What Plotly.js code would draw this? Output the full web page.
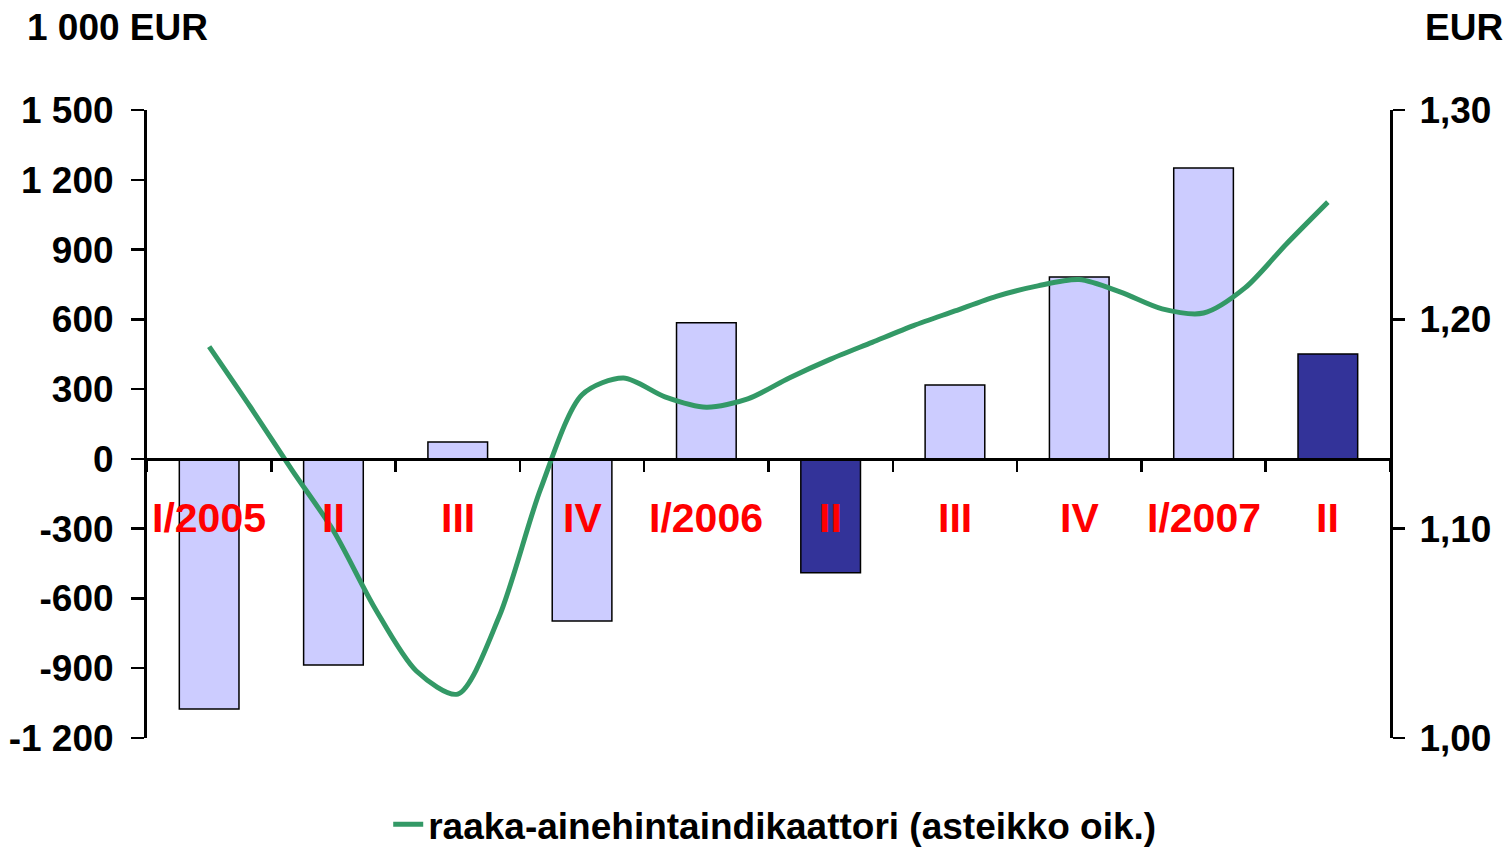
<!DOCTYPE html>
<html>
<head>
<meta charset="utf-8">
<script src="https://cdn.plot.ly/plotly-3.0.1.min.js"></script>
<style>
  html, body { margin: 0; padding: 0; background: #ffffff; }
  #chart { width: 1510px; height: 850px; }
</style>
</head>
<body>
<div id="chart"></div>
<script>
// Quarter categories (bars)
const quarters = ["I/2005", "II", "III", "IV", "I/2006", "II", "III", "IV", "I/2007", "II"];
// Bar values, 1 000 EUR (left scale)
const barValues = [-1075, -886, 73, -697, 585, -490, 318, 782, 1251, 451];
// Highlighted quarters (dark bars)
const highlighted = [5, 9];

// Monthly raw-material price indicator, EUR (right scale), Feb 2005 .. May 2007
const indicator = [
  1.187, 1.158, 1.128, 1.099, 1.062, 1.032, 1.021, 1.058, 1.119, 1.164,
  1.172, 1.163, 1.158, 1.162, 1.172, 1.181, 1.189, 1.197, 1.204, 1.211,
  1.216, 1.219, 1.213, 1.205, 1.203, 1.215, 1.236, 1.256
];
const indicatorName = "raaka-ainehintaindikaattori (asteikko oik.)";

// Axis ticks
const leftTickVals = [-1200, -900, -600, -300, 0, 300, 600, 900, 1200, 1500];
const leftTickText = ["-1 200", "-900", "-600", "-300", "0", "300", "600", "900", "1 200", "1 500"];
const rightTickVals = [1.00, 1.10, 1.20, 1.30];
const rightTickText = ["1,00", "1,10", "1,20", "1,30"];
const leftUnit = "1 000 EUR";
const rightUnit = "EUR";

const FONT = "'Liberation Sans', Arial, sans-serif";
const catIdx = quarters.map((q, i) => i);
const monthsPerQuarter = 3;
const lineX = indicator.map((v, i) => i / monthsPerQuarter);
const barColors = quarters.map((q, i) => highlighted.includes(i) ? "#333399" : "#CCCCFF");

const bars = {
  type: "bar",
  x: catIdx,
  y: barValues,
  width: 0.48,
  marker: { color: barColors, line: { color: "#000000", width: 1.5 } },
  showlegend: false,
  hoverinfo: "skip"
};

const line = {
  type: "scatter",
  mode: "lines",
  x: lineX,
  y: indicator,
  yaxis: "y2",
  name: indicatorName,
  line: { color: "#339966", width: 5, shape: "spline", smoothing: 0.8 },
  showlegend: true,
  hoverinfo: "skip"
};

const labelAnnotations = quarters.map((q, i) => ({
  x: i, xref: "x",
  y: 0.35, yref: "paper",
  text: q,
  showarrow: false,
  xanchor: "center", yanchor: "middle",
  font: { family: FONT, size: 41, color: "#FF0000", weight: "bold" }
}));

const layout = {
  width: 1510,
  height: 850,
  margin: { l: 147, r: 120, t: 110, b: 112, autoexpand: false },
  paper_bgcolor: "#ffffff",
  plot_bgcolor: "#ffffff",
  font: { family: FONT, size: 37, color: "#000000", weight: "bold" },
  bargap: 0.52,
  xaxis: {
    range: [-0.5, 9.5],
    anchor: "free",
    position: 1200 / 2700,
    showline: true,
    linecolor: "#000000",
    linewidth: 3,
    tickmode: "array",
    tickvals: quarters.map((q, i) => i - 0.5).concat([quarters.length - 0.5]),
    showticklabels: false,
    ticks: "outside",
    ticklen: 11,
    tickwidth: 2.5,
    tickcolor: "#000000",
    showgrid: false,
    zeroline: false,
    automargin: false,
    fixedrange: true
  },
  yaxis: {
    range: [-1200, 1500],
    tickmode: "array",
    tickvals: leftTickVals,
    ticktext: leftTickText,
    ticks: "outside",
    ticklen: 13,
    tickwidth: 2.5,
    tickcolor: "#000000",
    showline: true,
    linecolor: "#000000",
    linewidth: 3,
    showgrid: false,
    zeroline: false,
    automargin: false,
    ticklabelstandoff: 10,
    tickfont: { family: FONT, size: 37, color: "#000000", weight: "bold" }
  },
  yaxis2: {
    range: [1.00, 1.30],
    overlaying: "y",
    side: "right",
    tickmode: "array",
    tickvals: rightTickVals,
    ticktext: rightTickText,
    ticks: "outside",
    ticklen: 12,
    tickwidth: 2.5,
    tickcolor: "#000000",
    showline: true,
    linecolor: "#000000",
    linewidth: 3,
    showgrid: false,
    zeroline: false,
    automargin: false,
    ticklabelstandoff: 7,
    tickfont: { family: FONT, size: 37, color: "#000000", weight: "bold" }
  },
  showlegend: true,
  legend: {
    orientation: "h",
    x: 0.505, xanchor: "center",
    y: -0.138, yanchor: "middle",
    font: { family: FONT, size: 37, color: "#000000", weight: "bold" },
    bgcolor: "rgba(0,0,0,0)"
  },
  annotations: labelAnnotations.concat([
    {
      x: (25 - 147) / 1243, xref: "paper", xanchor: "left",
      y: (110 - 28) / 628 + 1, yref: "paper", yanchor: "middle",
      text: leftUnit, showarrow: false,
      font: { family: FONT, size: 37, color: "#000000", weight: "bold" }
    },
    {
      x: (1505 - 147) / 1243, xref: "paper", xanchor: "right",
      y: (110 - 28) / 628 + 1, yref: "paper", yanchor: "middle",
      text: rightUnit, showarrow: false,
      font: { family: FONT, size: 37, color: "#000000", weight: "bold" }
    }
  ])
};

Plotly.newPlot("chart", [bars, line], layout, { displayModeBar: false, staticPlot: true });
</script>
</body>
</html>
